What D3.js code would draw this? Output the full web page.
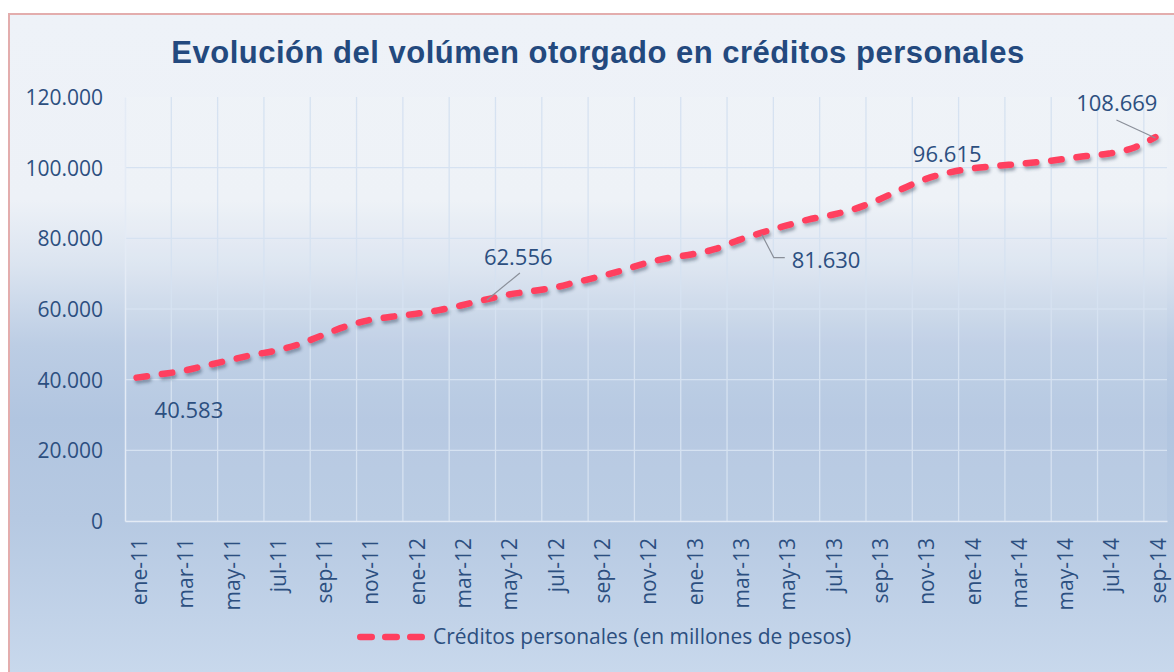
<!DOCTYPE html>
<html>
<head>
<meta charset="utf-8">
<script src="https://cdn.jsdelivr.net/npm/d3@7"></script>
<style>
  html, body { margin: 0; padding: 0; background: #fff; }
  svg { display: block; }
</style>
</head>
<body>
<div id="chart"></div>
<script>
const months = [
  'ene-11', 'feb-11', 'mar-11', 'abr-11', 'may-11', 'jun-11', 'jul-11', 'ago-11', 'sep-11', 'oct-11', 'nov-11', 'dic-11',
  'ene-12', 'feb-12', 'mar-12', 'abr-12', 'may-12', 'jun-12', 'jul-12', 'ago-12', 'sep-12', 'oct-12', 'nov-12', 'dic-12',
  'ene-13', 'feb-13', 'mar-13', 'abr-13', 'may-13', 'jun-13', 'jul-13', 'ago-13', 'sep-13', 'oct-13', 'nov-13', 'dic-13',
  'ene-14', 'feb-14', 'mar-14', 'abr-14', 'may-14', 'jun-14', 'jul-14', 'ago-14', 'sep-14'
]
const credits = [
  40583, 41500, 42500, 44000, 45500, 47000, 48200, 50000, 52500, 55000, 56800, 57800,
  58600, 59600, 61000, 62556, 64000, 65000, 66000, 67600, 69200, 71000, 73000, 74500,
  75500, 77000, 79500, 81630, 83500, 85300, 86600, 88300, 90800, 93800, 96615, 98500,
  99700, 100400, 101000, 101600, 102400, 103300, 104000, 105500, 108669
]
const yTicks = [0, 20000, 40000, 60000, 80000, 100000, 120000]
const labelled = ['ene-11', 'abr-12', 'abr-13', 'nov-13', 'sep-14']
const seriesName = 'Créditos personales (en millones de pesos)'
const title = 'Evolución del volúmen otorgado en créditos personales'

const width = 1174
const height = 672
const marginTop = 97
const marginRight = 7
const marginBottom = 151
const marginLeft = 125
const textColor = '#2c4f80'
const lineColor = '#ff3f5f'

const svg = d3.select('#chart')
  .append('svg')
  .attr('width', width)
  .attr('height', height)

const defs = svg.append('defs')
const grad = defs.append('linearGradient')
  .attr('id', 'bg')
  .attr('gradientUnits', 'userSpaceOnUse')
  .attr('x1', 0).attr('x2', 0)
  .attr('y1', 14).attr('y2', height)
const stops = [[14, '#eef2f8'], [200, '#edf1f7'], [265, '#dbe4f0'], [345, '#bccde4'], [420, '#b1c5e0'], [520, '#b6c9e2'], [672, '#c8d8ec']]
stops.forEach(s => {
  grad.append('stop').attr('offset', (s[0] - 14) / (height - 14)).attr('stop-color', s[1])
})
defs.append('filter')
  .attr('id', 'shadow')
  .attr('x', '-5%').attr('y', '-20%').attr('width', '110%').attr('height', '140%')
  .append('feDropShadow')
  .attr('dx', 1.5).attr('dy', 3).attr('stdDeviation', 1.6)
  .attr('flood-color', '#2a3550').attr('flood-opacity', 0.4)

// chart area with frame
svg.append('rect')
  .attr('x', 9).attr('y', 14)
  .attr('width', width + 20).attr('height', height + 20)
  .attr('fill', 'url(#bg)')
  .attr('stroke', '#e3adad')
  .attr('stroke-width', 2)

svg.append('text')
  .attr('x', 598)
  .attr('y', 63)
  .attr('text-anchor', 'middle')
  .style('font-family', '"Liberation Sans", Arial, sans-serif')
  .style('font-weight', 'bold')
  .style('font-size', '31px')
  .style('letter-spacing', '0.5px')
  .attr('fill', '#23497e')
  .text(title)

const xScale = d3.scaleBand()
  .domain(months)
  .range([marginLeft, width - marginRight])
  .padding(0)

const yScale = d3.scaleLinear()
  .domain([0, 120000])
  .range([height - marginBottom, marginTop])

const cx = d => xScale(d) + xScale.bandwidth() / 2

svg.append('rect')
  .attr('x', marginLeft).attr('y', marginTop)
  .attr('width', width - marginRight - marginLeft)
  .attr('height', height - marginBottom - marginTop)
  .attr('fill', '#ffffff').attr('fill-opacity', 0.08)

// gridlines
const grid = svg.append('g').attr('stroke', '#d6e2f1').attr('stroke-width', 1.3)
grid.selectAll('.hg')
  .data(yTicks.filter(d => d > 0 && d < 120000))
  .enter()
  .append('line')
  .attr('x1', marginLeft).attr('x2', width - marginRight)
  .attr('y1', d => yScale(d)).attr('y2', d => yScale(d))
grid.selectAll('.vg')
  .data(months.filter((d, i) => i > 0 && i % 2 === 0))
  .enter()
  .append('line')
  .attr('x1', d => xScale(d)).attr('x2', d => xScale(d))
  .attr('y1', marginTop).attr('y2', height - marginBottom)

// axes
const yAxis = d3.axisLeft(yScale)
  .tickValues(yTicks)
  .tickSize(0)
  .tickPadding(22)
  .tickFormat(d => d3.format(',')(d).replace(/,/g, '.'))

svg.append('g')
  .attr('transform', 'translate(' + marginLeft + ',0)')
  .call(yAxis)
  .call(g => g.select('.domain').attr('stroke', '#e4ebf5').attr('stroke-width', 1.5))
  .selectAll('text')
  .attr('fill', textColor)
  .attr('dy', '0.36em')
  .style('font-family', '"Open Sans", sans-serif')
  .style('font-size', '21px')

const xAxis = d3.axisBottom(xScale)
  .tickValues(months.filter((d, i) => i % 2 === 0))
  .tickSize(0)

svg.append('g')
  .attr('transform', 'translate(0,' + (height - marginBottom) + ')')
  .call(xAxis)
  .call(g => g.select('.domain').attr('stroke', '#e4ebf5').attr('stroke-width', 1.5))
  .selectAll('text')
  .attr('transform', 'rotate(-90)')
  .attr('text-anchor', 'end')
  .attr('x', -17)
  .attr('y', 3)
  .attr('dy', '0.35em')
  .attr('fill', textColor)
  .style('font-family', '"Open Sans", sans-serif')
  .style('font-size', '21px')

// series line
const line = d3.line()
  .x((d, i) => cx(months[i]))
  .y(d => yScale(d))
  .curve(d3.curveMonotoneX)

svg.append('path')
  .datum(credits)
  .attr('d', line)
  .attr('fill', 'none')
  .attr('stroke', lineColor)
  .attr('stroke-width', 6.5)
  .attr('stroke-linecap', 'round')
  .attr('stroke-dasharray', '10.5 15')
  .attr('filter', 'url(#shadow)')

// data labels
const labelPos = {
  'ene-11': { dx: 18, dy: 40, anchor: 'start', leader: null },
  'abr-12': { dx: 0, dy: -35, anchor: 'start', leader: [[3, 0], [36, -27]] },
  'abr-13': { dx: 30, dy: 35, anchor: 'start', leader: [[0, 2], [12, 25], [23, 25]] },
  'nov-13': { dx: -11, dy: -18, anchor: 'start', leader: null },
  'sep-14': { dx: 2, dy: -26, anchor: 'end', leader: [[0, 1], [-39, -17]] }
}
const labels = svg.append('g')
labelled.forEach(m => {
  const i = months.indexOf(m)
  const px = cx(m)
  const py = yScale(credits[i])
  const p = labelPos[m]
  if (p.leader) {
    labels.append('path')
      .attr('d', d3.line()(p.leader.map(q => [px + q[0], py + q[1]])))
      .attr('fill', 'none')
      .attr('stroke', '#8a8f99')
      .attr('stroke-width', 1.2)
  }
  labels.append('text')
    .attr('x', px + p.dx)
    .attr('y', py + p.dy)
    .attr('text-anchor', p.anchor)
    .attr('fill', textColor)
    .style('font-family', '"Open Sans", sans-serif')
    .style('font-size', '22px')
    .text(d3.format(',')(credits[i]).replace(/,/g, '.'))
})

// legend
const legend = svg.append('g').attr('transform', 'translate(357,637)')
legend.append('line')
  .attr('x1', 3.25).attr('x2', 64.75)
  .attr('y1', 0).attr('y2', 0)
  .attr('stroke', lineColor)
  .attr('stroke-width', 6.5)
  .attr('stroke-linecap', 'round')
  .attr('stroke-dasharray', '11.5 13.5')
legend.append('text')
  .attr('x', 76)
  .attr('y', 0)
  .attr('dy', '0.35em')
  .attr('fill', textColor)
  .style('font-family', '"Open Sans", sans-serif')
  .style('font-size', '21px')
  .text(seriesName)
</script>
</body>
</html>
